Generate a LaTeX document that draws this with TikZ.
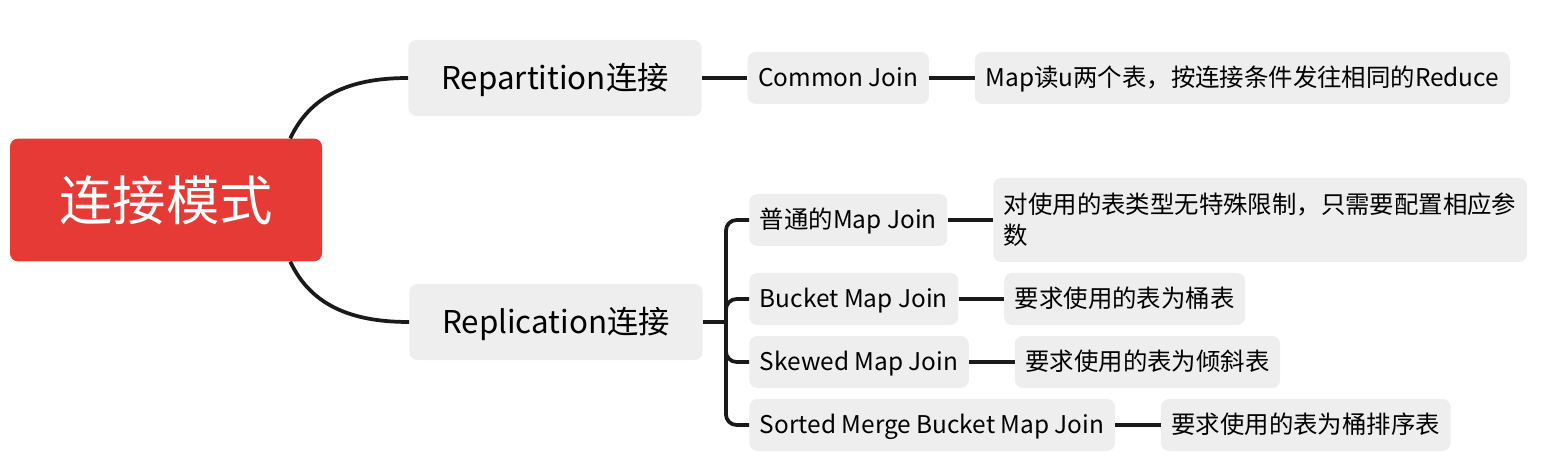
\documentclass[tikz,border=0pt]{standalone}
\usepackage{fontspec}
\setmainfont{Noto Sans CJK SC}
\usetikzlibrary{positioning}
\usetikzlibrary{calc}
\definecolor{rootred}{HTML}{E53A35}
\definecolor{boxgray}{HTML}{EEEEEE}
\definecolor{linkblack}{HTML}{1A1A1A}
\tikzset{
  rootbox/.style={fill=rootred,rounded corners=6pt,text=white,font=\fontsize{40}{48}\selectfont,minimum width=234pt,minimum height=92pt},
  mainbox/.style={fill=boxgray,rounded corners=6pt,font=\fontsize{23.5}{28}\selectfont,minimum width=220pt,minimum height=57pt,text height=21.2pt,text depth=4pt},
  subbox/.style={fill=boxgray,rounded corners=6pt,font=\fontsize{18.3}{22}\selectfont,minimum height=39pt,inner xsep=8pt,inner ysep=2pt,text height=16.5pt,text depth=3.1pt},
  link/.style={line width=2.8pt,linkblack}
}

\begin{document}
\begin{tikzpicture}[x=0.75pt,y=0.75pt]
        \useasboundingbox (0,0) rectangle (1544,-459);
        \node [rootbox] (root) at (166,-200) {连接模式};
        \node [mainbox] (rep) at (555,-78) {Repartition连接};
        \node [mainbox] (repl) at (556,-322) {Replication连接};
        % Repartition
        \node [subbox,right=34pt of rep] (common) {Common Join};
        \node [subbox,right=34pt of common] (commonnote) {Map读u两个表，按连接条件发往相同的Reduce};
        % Replication
        \node [subbox,anchor=west] (plain) at (749,-220) {普通的Map Join};
        \node [subbox,anchor=west] (bucket) at (749,-299) {Bucket Map Join};
        \node [subbox,anchor=west] (skewed) at (749,-362) {Skewed Map Join};
        \node [subbox,anchor=west] (sorted) at (749,-425) {Sorted Merge Bucket Map Join};
        \node [subbox,right=34pt of plain,minimum height=63pt,align=left,font=\fontsize{18.3}{23}\selectfont,text height=39.5pt] (plainnote) {对使用的表类型无特殊限制，只需要配置相应参\\数};
        \node [subbox,right=34pt of bucket] (bucketnote) {要求使用的表为桶表};
        \node [subbox,right=34pt of skewed] (skewednote) {要求使用的表为倾斜表};
        \node [subbox,right=34pt of sorted] (sortednote) {要求使用的表为桶排序表};
        \coordinate (roottop) at ($(root.north east)+(-32,0)$);
        \coordinate (rootbot) at ($(root.south east)+(-32,0)$);
        \coordinate (fork) at ($(repl.east)+(23,0)$);
        \draw [link] (roottop) to [out=65,in=180] (rep.west);
        \draw [link] (rootbot) to [out=-65,in=180] (repl.west);
        \draw [link] (rep) -- (common);
        \draw [link] (common) -- (commonnote);
        \draw [link] (repl.east) -- (fork);
        \foreach \leaf in {plain,bucket,skewed,sorted}
            \draw [link,rounded corners=8pt] (fork) |- (\leaf.west);
        \draw [link] (plain) -- (plainnote);
        \draw [link] (bucket) -- (bucketnote);
        \draw [link] (skewed) -- (skewednote);
        \draw [link] (sorted) -- (sortednote);
    \end{tikzpicture}
\end{document}
